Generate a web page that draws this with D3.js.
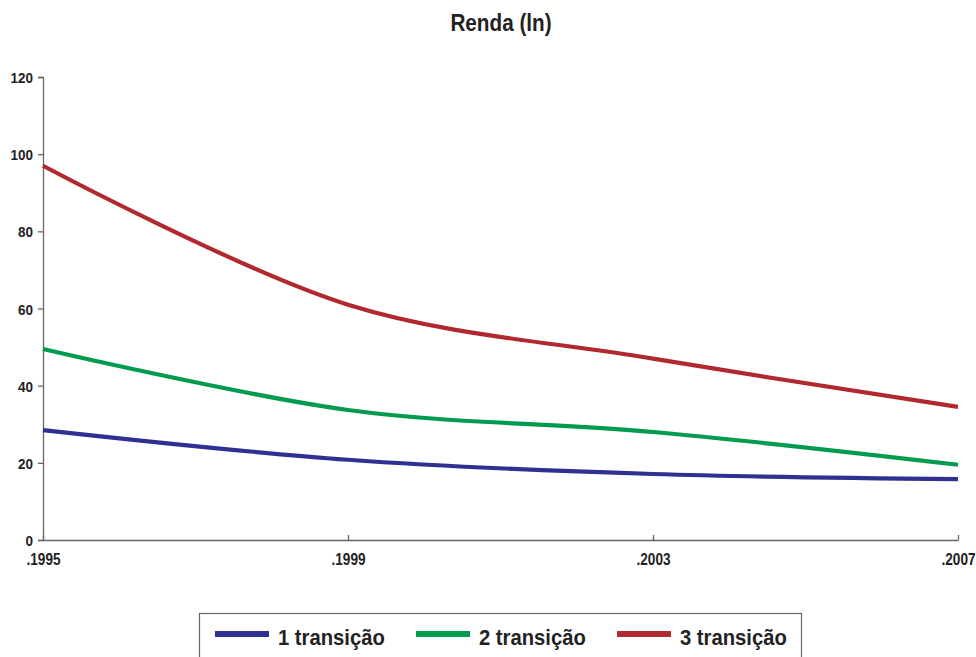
<!DOCTYPE html>
<html>
<head>
<meta charset="utf-8">
<script src="https://cdn.jsdelivr.net/npm/d3@7"></script>
<style>
  html, body { margin: 0; padding: 0; background: #fff; }
  svg text { font-family: "Liberation Sans Narrow", "Arial Narrow", "Liberation Sans", Arial, sans-serif; font-weight: bold; fill: #222; }
</style>
</head>
<body>
<svg id="chart" width="976" height="657"></svg>
<script>
// Survey years and the three transition series (renda, ln)
const years = [1995, 1999, 2003, 2007];
const yearLabels = [".1995", ".1999", ".2003", ".2007"];
const yTicks = [0, 20, 40, 60, 80, 100, 120];
const serie1 = [28.5, 20.8, 17.1, 15.8];
const serie2 = [49.5, 33.7, 28.0, 19.5];
const serie3 = [97.0, 61.0, 47.0, 34.5];
const seriesNames = ["1 transição", "2 transição", "3 transição"];
const seriesColors = ["#2e3192", "#009b4e", "#b1282e"];

const svg = d3.select("#chart");
const margin = { left: 43, right: 18, top: 77, bottom: 117 };
const W = 976, H = 657;

const x = d3.scaleLinear().domain([1995, 2007]).range([margin.left, W - margin.right]);
const y = d3.scaleLinear().domain([0, 120]).range([H - margin.bottom, margin.top]);

// Title
svg.append("text")
  .attr("transform", "translate(501,31) scale(0.9,1)")
  .attr("text-anchor", "middle")
  .style("font-size", "23px")
  .text("Renda (ln)");

const axisColor = "#666";

// Y axis
const yAxis = svg.append("g")
  .attr("transform", `translate(${margin.left},0)`)
  .call(d3.axisLeft(y).tickValues(yTicks).tickSize(5).tickPadding(0));
yAxis.select(".domain").attr("stroke", axisColor).attr("stroke-width", 1.3);
yAxis.selectAll(".tick line").attr("stroke", axisColor).attr("stroke-width", 1.3);
yAxis.selectAll(".tick text")
  .style("font-size", "15.5px").style("font-family", null)
  .attr("x", 0).attr("dy", "0.36em")
  .attr("transform", "translate(-10,0) scale(0.87,1)");

// X axis (ticks point up into the plot)
const xAxis = svg.append("g")
  .attr("transform", `translate(0,${y(0)})`)
  .call(d3.axisBottom(x).tickValues(years).tickSize(-5).tickSizeOuter(0)
    .tickFormat((d, i) => yearLabels[i]).tickPadding(0));
xAxis.select(".domain").attr("stroke", axisColor).attr("stroke-width", 1.3);
xAxis.selectAll(".tick line").attr("stroke", axisColor).attr("stroke-width", 1.3);
xAxis.selectAll(".tick text")
  .style("font-size", "16px").style("font-family", null)
  .attr("y", 0).attr("dy", 0)
  .attr("transform", "translate(0,25) scale(0.85,1)");

// Smoothed series lines
const allSeries = [serie1, serie2, serie3];
const line = d3.line()
  .x((d, i) => x(years[i]))
  .y(d => y(d))
  .curve(d3.curveCatmullRom.alpha(0.5));

svg.append("g").selectAll("path")
  .data(allSeries)
  .join("path")
  .attr("d", d => line(d))
  .attr("fill", "none")
  .attr("stroke", (d, i) => seriesColors[i])
  .attr("stroke-width", 4.2)
  .attr("stroke-linecap", "butt");

// Legend
const legend = svg.append("g");
legend.append("rect")
  .attr("x", 199.5).attr("y", 613.5)
  .attr("width", 602).attr("height", 60)
  .attr("fill", "#fff").attr("stroke", "#666").attr("stroke-width", 1.2);

const legendX = [215, 416, 617];
seriesNames.forEach((name, i) => {
  legend.append("line")
    .attr("x1", legendX[i]).attr("x2", legendX[i] + 54)
    .attr("y1", 634).attr("y2", 634)
    .attr("stroke", seriesColors[i]).attr("stroke-width", 6);
  legend.append("text")
    .attr("transform", `translate(${legendX[i] + 63},645) scale(0.92,1)`)
    .style("font-size", "22px")
    .text(name);
});
</script>
</body>
</html>
